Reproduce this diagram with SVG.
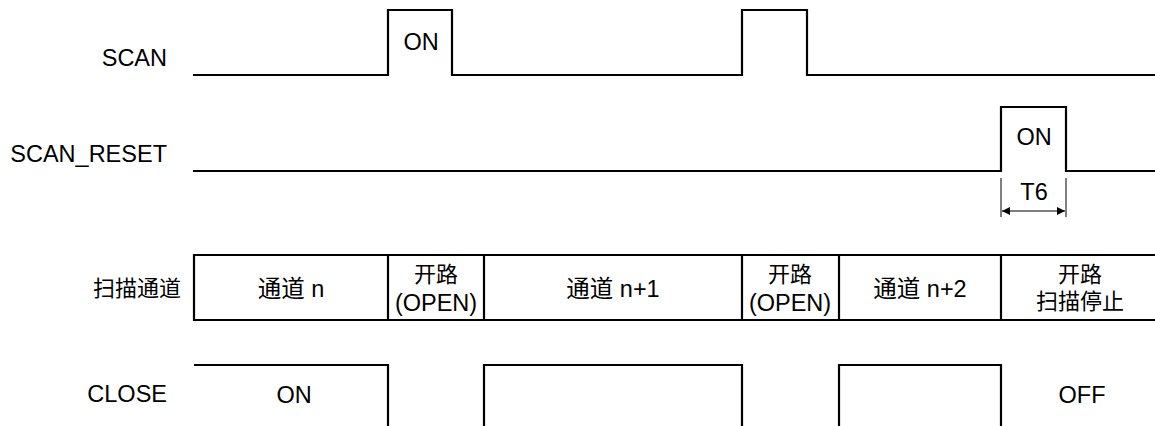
<svg xmlns="http://www.w3.org/2000/svg" width="1155" height="426" viewBox="0 0 1155 426">
<style>
text{font-family:"Liberation Sans","Noto Sans CJK SC",Arial,sans-serif;font-size:23.5px;fill:#000}
.cjk{font-size:22px}
.l{text-anchor:end}
.c{text-anchor:middle}
.sig{fill:none;stroke:#000;stroke-width:2.2;stroke-linejoin:miter}
.thin{fill:none;stroke:#000;stroke-width:1}
</style>
<defs>
<marker id="ah" viewBox="0 0 10 10" refX="10" refY="5" markerWidth="14" markerHeight="8" markerUnits="userSpaceOnUse" orient="auto-start-reverse">
<path d="M0,0 L10,5 L0,10 z" fill="#000"/>
</marker>
</defs>
<rect width="1155" height="426" fill="#fff"/>
<g id="labels">
<text class="l" x="167" y="66">SCAN</text>
<text class="l" x="167" y="162">SCAN_RESET</text>
<text class="l cjk" x="181" y="296">扫描通道</text>
<text class="l" x="167" y="402">CLOSE</text>
</g>
<g id="scan">
<path class="sig" d="M193,75 H388 V10 H452 V75 H742 V10 H807 V75 H1155"/>
<text class="c" x="421" y="50">ON</text>
</g>
<g id="scan_reset">
<path class="sig" d="M193,171 H1001 V107 H1066 V171 H1155"/>
<text class="c" x="1034" y="145">ON</text>
</g>
<g id="t6">
<line class="thin" x1="1001" y1="178" x2="1001" y2="217"/>
<line class="thin" x1="1066" y1="178" x2="1066" y2="217"/>
<text class="c" x="1034" y="200">T6</text>
</g>
<g id="connectors">
<line class="thin" x1="1002" y1="211" x2="1065" y2="211" stroke-width="1.5" marker-start="url(#ah)" marker-end="url(#ah)"/>
</g>
<g id="channel">
<path class="sig" d="M1155,255 H194 V320 H1155 M388,255 V320 M484,255 V320 M742,255 V320 M839,255 V320 M1001,255 V320"/>
<text class="c" x="291" y="297">通道 n</text>
<text class="c cjk" x="436" y="282">开路</text>
<text class="c" x="436" y="311">(OPEN)</text>
<text class="c" x="613" y="297">通道 n+1</text>
<text class="c cjk" x="790" y="282">开路</text>
<text class="c" x="790" y="311">(OPEN)</text>
<text class="c" x="920" y="297">通道 n+2</text>
<text class="c cjk" x="1080" y="282">开路</text>
<text class="c cjk" x="1080" y="309">扫描停止</text>
</g>
<g id="close">
<path class="sig" d="M194,365 H388 V430 M484,430 V365 H742 V430 M839,430 V365 H1001 V430"/>
<text class="c" x="294" y="403">ON</text>
<text class="c" x="1082" y="403">OFF</text>
</g>
</svg>
